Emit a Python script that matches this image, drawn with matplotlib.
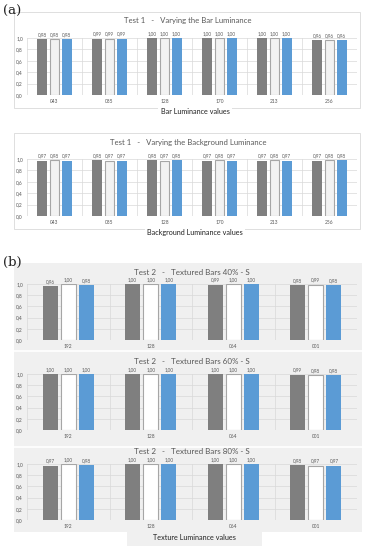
import matplotlib
matplotlib.use('Agg')
from matplotlib import pyplot as plt
from matplotlib.patches import Rectangle
import numpy as np

# Data
test1_cats = ['043', '085', '128', '170', '213', '256']
bar_lum = [[0.98, 0.99, 1.00, 1.00, 1.00, 0.96],
           [0.98, 0.99, 1.00, 1.00, 1.00, 0.96],
           [0.98, 0.99, 1.00, 1.00, 1.00, 0.96]]
bg_lum = [[0.97, 0.98, 0.98, 0.97, 0.97, 0.97],
          [0.98, 0.97, 0.97, 0.98, 0.98, 0.98],
          [0.97, 0.97, 0.98, 0.97, 0.97, 0.98]]

test2_cats = ['192', '128', '064', '001']
tex40 = [[0.96, 1.00, 0.99, 0.98],
         [1.00, 1.00, 1.00, 0.99],
         [0.98, 1.00, 1.00, 0.98]]
tex60 = [[1.00, 1.00, 1.00, 0.99],
         [1.00, 1.00, 1.00, 0.98],
         [1.00, 1.00, 1.00, 0.98]]
tex80 = [[0.97, 1.00, 1.00, 0.98],
         [1.00, 1.00, 1.00, 0.97],
         [0.98, 1.00, 1.00, 0.97]]
yticks = [0.0, 0.2, 0.4, 0.6, 0.8, 1.0]

# Style
W, H = 367, 550
dark_c = '#7f7f7f'
blue_c = '#5b9bd5'
edge_c = '#a6a6a6'
txt_c = '#595959'
grid_c = '#d9d9d9'
panel_bg = '#f0f0f0'
plt.rcParams['font.family'] = ['Lato', 'DejaVu Sans']

fig = plt.figure(figsize=(W / 100, H / 100), dpi=100)


def px_rect(x0, y0, x1, y1):
    return [x0 / W, 1 - y1 / H, (x1 - x0) / W, (y1 - y0) / H]


def fx(x):
    return x / W


def fy(y):
    return 1 - y / H


def bar_chart(ax, cats, series, light_fc, bg):
    n = len(cats)
    x = np.arange(n)
    fills = [dark_c, light_fc, blue_c]
    for i, vals in enumerate(series):
        off = (i - 1) * 0.22
        ec = edge_c if i == 1 else fills[i]
        ax.bar(x + off, vals, width=0.18, color=fills[i], edgecolor=ec,
               linewidth=0.8 if i == 1 else 0, zorder=3)
        for xi, v in zip(x + off, vals):
            ax.text(xi, v + 0.04, f'{v:.2f}'.replace('.', ','), ha='center',
                    va='bottom', fontsize=3.3, color=txt_c)
    ax.set_xlim(-0.5, n - 0.5)
    ax.set_ylim(0, 1.0)
    ax.set_facecolor(bg)
    ax.set_yticks(yticks)
    ax.set_yticklabels([f'{t:.1f}'.replace('.', ',') for t in yticks])
    ax.set_xticks(x)
    ax.set_xticklabels(cats)
    ax.set_xticks(np.arange(n + 1) - 0.5, minor=True)
    ax.tick_params(axis='both', which='both', length=0, labelsize=3.5,
                   labelcolor=txt_c, pad=3)
    ax.grid(axis='y', which='major', color=grid_c, lw=0.5, zorder=0)
    ax.grid(axis='x', which='minor', color=grid_c, lw=0.5, zorder=0)
    for s in ax.spines.values():
        s.set_visible(False)
    ax.axhline(0, color=grid_c, lw=0.6, zorder=1)


# Panel labels
fig.text(fx(3), fy(11), '(a)', fontsize=9.5, family='DejaVu Serif',
         va='center', ha='left', color='#222222')
fig.text(fx(3), fy(262), '(b)', fontsize=9.5, family='DejaVu Serif',
         va='center', ha='left', color='#222222')

# Panel (a)
for (y0, y1), title, xlabel, data in [
        ((12, 108), 'Test 1   -   Varying the Bar Luminance',
         'Bar Luminance values', bar_lum),
        ((133, 229), 'Test 1   -   Varying the Background Luminance',
         'Background Luminance values', bg_lum)]:
    fig.patches.append(Rectangle((fx(14), fy(y1)), fx(346), (y1 - y0) / H,
                                 transform=fig.transFigure, fc='white',
                                 ec='#d9d9d9', lw=0.6, zorder=-2))
    ax = fig.add_axes(px_rect(27, y0 + 26, 357, y0 + 83))
    bar_chart(ax, test1_cats, data, '#f2f2f2', 'white')
    fig.text(fx(188), fy(y0 + 9), title, fontsize=5.6, color=txt_c,
             ha='center', va='center')
    fig.text(fx(195), fy(y1 + 3), xlabel, fontsize=5.2, color='#222222',
             ha='center', va='center',
             bbox=dict(fc='white', ec='none', pad=1.5))

# Panel (b)
fig.patches.append(Rectangle((fx(14), fy(532)), fx(348), 269 / H,
                             transform=fig.transFigure, fc=panel_bg,
                             ec='none', zorder=-2))
for sep in [351, 447]:
    fig.lines.append(plt.Line2D([fx(14), fx(362)], [fy(sep), fy(sep)],
                                transform=fig.transFigure, color='white',
                                lw=1.2, zorder=-1))

for top, title, data in [
        (284, 'Test 2   -   Textured Bars 40% - S', tex40),
        (374, 'Test 2   -   Textured Bars 60% - S', tex60),
        (464, 'Test 2   -   Textured Bars 80% - S', tex80)]:
    ax = fig.add_axes(px_rect(27, top, 357, top + 56))
    bar_chart(ax, test2_cats, data, 'white', panel_bg)
    fig.text(fx(192), fy(top - 12), title, fontsize=5.8, color=txt_c,
             ha='center', va='center')

fig.patches.append(Rectangle((fx(127), fy(546)), fx(135), 14 / H,
                             transform=fig.transFigure, fc=panel_bg,
                             ec='none', zorder=-2))
fig.text(fx(194), fy(538), 'Texture Luminance values', fontsize=5.2,
         color='#222222', ha='center', va='center')

plt.savefig('out.png', dpi=100)
